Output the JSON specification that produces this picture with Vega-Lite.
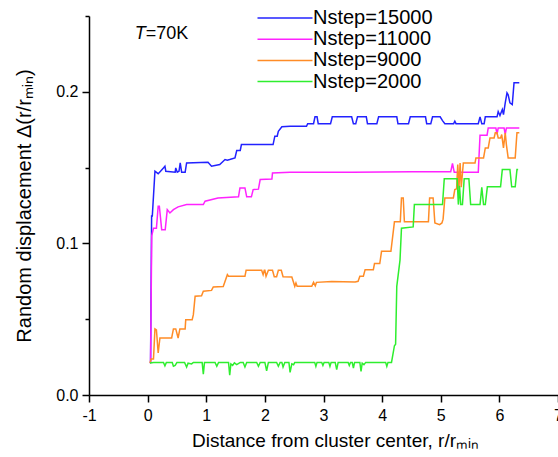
{
"$schema": "https://vega.github.io/schema/vega-lite/v6.json",
"width": 469, "height": 379,
"autosize": "none",
"padding": {"left": 89, "top": 16, "right": 0, "bottom": 62},
"background": "white",
"config": {"view": {"stroke": null}, "font": "Liberation Sans"},
"datasets": {
"curves": [
{"s":"Nstep=15000","r":0.05,"d":0.021},{"s":"Nstep=15000","r":0.068,"d":0.118},{"s":"Nstep=15000","r":0.08,"d":0.118},{"s":"Nstep=15000","r":0.125,"d":0.1476},{"s":"Nstep=15000","r":0.18,"d":0.146},{"s":"Nstep=15000","r":0.22,"d":0.1476},{"s":"Nstep=15000","r":0.27,"d":0.1498},{"s":"Nstep=15000","r":0.295,"d":0.1509},{"s":"Nstep=15000","r":0.31,"d":0.1476},{"s":"Nstep=15000","r":0.47,"d":0.147},{"s":"Nstep=15000","r":0.48,"d":0.1498},{"s":"Nstep=15000","r":0.505,"d":0.147},{"s":"Nstep=15000","r":0.535,"d":0.1476},{"s":"Nstep=15000","r":0.556,"d":0.1531},{"s":"Nstep=15000","r":0.58,"d":0.147},{"s":"Nstep=15000","r":0.64,"d":0.147},{"s":"Nstep=15000","r":0.665,"d":0.1531},{"s":"Nstep=15000","r":1.03,"d":0.1535},{"s":"Nstep=15000","r":1.09,"d":0.1509},{"s":"Nstep=15000","r":1.23,"d":0.152},{"s":"Nstep=15000","r":1.29,"d":0.1542},{"s":"Nstep=15000","r":1.32,"d":0.1553},{"s":"Nstep=15000","r":1.36,"d":0.1549},{"s":"Nstep=15000","r":1.40,"d":0.1553},{"s":"Nstep=15000","r":1.49,"d":0.1564},{"s":"Nstep=15000","r":1.52,"d":0.1613},{"s":"Nstep=15000","r":1.58,"d":0.1613},{"s":"Nstep=15000","r":1.60,"d":0.1652},{"s":"Nstep=15000","r":2.14,"d":0.1652},{"s":"Nstep=15000","r":2.17,"d":0.1707},{"s":"Nstep=15000","r":2.21,"d":0.1707},{"s":"Nstep=15000","r":2.23,"d":0.174},{"s":"Nstep=15000","r":2.29,"d":0.1769},{"s":"Nstep=15000","r":2.43,"d":0.1773},{"s":"Nstep=15000","r":2.71,"d":0.1773},{"s":"Nstep=15000","r":2.73,"d":0.179},{"s":"Nstep=15000","r":2.83,"d":0.179},{"s":"Nstep=15000","r":2.855,"d":0.1835},{"s":"Nstep=15000","r":2.89,"d":0.1835},{"s":"Nstep=15000","r":2.91,"d":0.179},{"s":"Nstep=15000","r":3.12,"d":0.179},{"s":"Nstep=15000","r":3.15,"d":0.1835},{"s":"Nstep=15000","r":3.48,"d":0.1835},{"s":"Nstep=15000","r":3.51,"d":0.179},{"s":"Nstep=15000","r":3.55,"d":0.179},{"s":"Nstep=15000","r":3.58,"d":0.1835},{"s":"Nstep=15000","r":3.73,"d":0.1835},{"s":"Nstep=15000","r":3.75,"d":0.179},{"s":"Nstep=15000","r":3.91,"d":0.179},{"s":"Nstep=15000","r":3.94,"d":0.1835},{"s":"Nstep=15000","r":4.25,"d":0.1835},{"s":"Nstep=15000","r":4.27,"d":0.179},{"s":"Nstep=15000","r":4.45,"d":0.179},{"s":"Nstep=15000","r":4.48,"d":0.1835},{"s":"Nstep=15000","r":4.74,"d":0.1835},{"s":"Nstep=15000","r":4.76,"d":0.179},{"s":"Nstep=15000","r":4.83,"d":0.179},{"s":"Nstep=15000","r":4.86,"d":0.1835},{"s":"Nstep=15000","r":4.99,"d":0.1835},{"s":"Nstep=15000","r":5.03,"d":0.181},{"s":"Nstep=15000","r":5.07,"d":0.179},{"s":"Nstep=15000","r":5.22,"d":0.179},{"s":"Nstep=15000","r":5.24,"d":0.1806},{"s":"Nstep=15000","r":5.26,"d":0.179},{"s":"Nstep=15000","r":5.64,"d":0.179},{"s":"Nstep=15000","r":5.67,"d":0.1835},{"s":"Nstep=15000","r":5.70,"d":0.179},{"s":"Nstep=15000","r":5.74,"d":0.179},{"s":"Nstep=15000","r":5.76,"d":0.1835},{"s":"Nstep=15000","r":5.96,"d":0.1835},{"s":"Nstep=15000","r":5.98,"d":0.187},{"s":"Nstep=15000","r":6.01,"d":0.1844},{"s":"Nstep=15000","r":6.05,"d":0.1883},{"s":"Nstep=15000","r":6.07,"d":0.185},{"s":"Nstep=15000","r":6.10,"d":0.1927},{"s":"Nstep=15000","r":6.13,"d":0.1993},{"s":"Nstep=15000","r":6.15,"d":0.198},{"s":"Nstep=15000","r":6.18,"d":0.1927},{"s":"Nstep=15000","r":6.22,"d":0.1916},{"s":"Nstep=15000","r":6.25,"d":0.206},{"s":"Nstep=15000","r":6.34,"d":0.206},

{"s":"Nstep=11000","r":0.05,"d":0.021},{"s":"Nstep=11000","r":0.07,"d":0.105},{"s":"Nstep=11000","r":0.10,"d":0.110},{"s":"Nstep=11000","r":0.15,"d":0.110},{"s":"Nstep=11000","r":0.18,"d":0.1245},{"s":"Nstep=11000","r":0.20,"d":0.1245},{"s":"Nstep=11000","r":0.24,"d":0.109},{"s":"Nstep=11000","r":0.30,"d":0.109},{"s":"Nstep=11000","r":0.335,"d":0.1223},{"s":"Nstep=11000","r":0.38,"d":0.1201},{"s":"Nstep=11000","r":0.44,"d":0.1223},{"s":"Nstep=11000","r":0.52,"d":0.1241},{"s":"Nstep=11000","r":0.665,"d":0.1256},{"s":"Nstep=11000","r":0.95,"d":0.1256},{"s":"Nstep=11000","r":0.98,"d":0.1278},{"s":"Nstep=11000","r":1.20,"d":0.130},{"s":"Nstep=11000","r":1.55,"d":0.1307},{"s":"Nstep=11000","r":1.575,"d":0.1366},{"s":"Nstep=11000","r":1.66,"d":0.1366},{"s":"Nstep=11000","r":1.69,"d":0.1307},{"s":"Nstep=11000","r":1.77,"d":0.1307},{"s":"Nstep=11000","r":1.80,"d":0.1355},{"s":"Nstep=11000","r":1.89,"d":0.1358},{"s":"Nstep=11000","r":1.92,"d":0.1421},{"s":"Nstep=11000","r":2.12,"d":0.1425},{"s":"Nstep=11000","r":2.13,"d":0.1465},{"s":"Nstep=11000","r":2.43,"d":0.1469},{"s":"Nstep=11000","r":3.5,"d":0.1469},{"s":"Nstep=11000","r":4.5,"d":0.1472},{"s":"Nstep=11000","r":5.17,"d":0.1472},{"s":"Nstep=11000","r":5.20,"d":0.1527},{"s":"Nstep=11000","r":5.23,"d":0.147},{"s":"Nstep=11000","r":5.64,"d":0.147},{"s":"Nstep=11000","r":5.67,"d":0.1714},{"s":"Nstep=11000","r":5.79,"d":0.1714},{"s":"Nstep=11000","r":5.81,"d":0.1762},{"s":"Nstep=11000","r":5.94,"d":0.1762},{"s":"Nstep=11000","r":5.96,"d":0.172},{"s":"Nstep=11000","r":5.98,"d":0.1762},{"s":"Nstep=11000","r":6.08,"d":0.1762},{"s":"Nstep=11000","r":6.10,"d":0.172},{"s":"Nstep=11000","r":6.12,"d":0.1762},{"s":"Nstep=11000","r":6.34,"d":0.1762},

{"s":"Nstep=9000","r":0.04,"d":0.0211},{"s":"Nstep=9000","r":0.06,"d":0.0238},{"s":"Nstep=9000","r":0.10,"d":0.0238},{"s":"Nstep=9000","r":0.125,"d":0.0436},{"s":"Nstep=9000","r":0.15,"d":0.043},{"s":"Nstep=9000","r":0.18,"d":0.0277},{"s":"Nstep=9000","r":0.21,"d":0.0376},{"s":"Nstep=9000","r":0.41,"d":0.0376},{"s":"Nstep=9000","r":0.44,"d":0.0436},{"s":"Nstep=9000","r":0.48,"d":0.0436},{"s":"Nstep=9000","r":0.52,"d":0.0376},{"s":"Nstep=9000","r":0.55,"d":0.0436},{"s":"Nstep=9000","r":0.64,"d":0.0436},{"s":"Nstep=9000","r":0.65,"d":0.0497},{"s":"Nstep=9000","r":0.76,"d":0.0497},{"s":"Nstep=9000","r":0.78,"d":0.053},{"s":"Nstep=9000","r":0.81,"d":0.0651},{"s":"Nstep=9000","r":0.92,"d":0.0655},{"s":"Nstep=9000","r":0.95,"d":0.0684},{"s":"Nstep=9000","r":1.09,"d":0.069},{"s":"Nstep=9000","r":1.12,"d":0.0713},{"s":"Nstep=9000","r":1.29,"d":0.0716},{"s":"Nstep=9000","r":1.36,"d":0.0794},{"s":"Nstep=9000","r":1.38,"d":0.0783},{"s":"Nstep=9000","r":1.66,"d":0.0783},{"s":"Nstep=9000","r":1.68,"d":0.0823},{"s":"Nstep=9000","r":1.945,"d":0.0823},{"s":"Nstep=9000","r":1.97,"d":0.0794},{"s":"Nstep=9000","r":1.99,"d":0.0823},{"s":"Nstep=9000","r":2.00,"d":0.0823},{"s":"Nstep=9000","r":2.02,"d":0.0783},{"s":"Nstep=9000","r":2.06,"d":0.0823},{"s":"Nstep=9000","r":2.13,"d":0.0823},{"s":"Nstep=9000","r":2.16,"d":0.078},{"s":"Nstep=9000","r":2.20,"d":0.078},{"s":"Nstep=9000","r":2.23,"d":0.0823},{"s":"Nstep=9000","r":2.28,"d":0.0823},{"s":"Nstep=9000","r":2.31,"d":0.078},{"s":"Nstep=9000","r":2.46,"d":0.0779},{"s":"Nstep=9000","r":2.51,"d":0.0717},{"s":"Nstep=9000","r":2.53,"d":0.0739},{"s":"Nstep=9000","r":2.55,"d":0.0717},{"s":"Nstep=9000","r":2.80,"d":0.0717},{"s":"Nstep=9000","r":2.83,"d":0.0743},{"s":"Nstep=9000","r":2.86,"d":0.072},{"s":"Nstep=9000","r":2.88,"d":0.0743},{"s":"Nstep=9000","r":3.14,"d":0.0748},{"s":"Nstep=9000","r":3.54,"d":0.0745},{"s":"Nstep=9000","r":3.59,"d":0.075},{"s":"Nstep=9000","r":3.62,"d":0.0783},{"s":"Nstep=9000","r":3.68,"d":0.0783},{"s":"Nstep=9000","r":3.71,"d":0.0827},{"s":"Nstep=9000","r":3.85,"d":0.0827},{"s":"Nstep=9000","r":3.87,"d":0.0867},{"s":"Nstep=9000","r":3.96,"d":0.0867},{"s":"Nstep=9000","r":3.99,"d":0.0948},{"s":"Nstep=9000","r":4.15,"d":0.0948},{"s":"Nstep=9000","r":4.21,"d":0.1142},{"s":"Nstep=9000","r":4.31,"d":0.1142},{"s":"Nstep=9000","r":4.33,"d":0.130},{"s":"Nstep=9000","r":4.36,"d":0.130},{"s":"Nstep=9000","r":4.38,"d":0.1142},{"s":"Nstep=9000","r":4.79,"d":0.1142},{"s":"Nstep=9000","r":4.81,"d":0.130},{"s":"Nstep=9000","r":4.87,"d":0.130},{"s":"Nstep=9000","r":4.90,"d":0.1135},{"s":"Nstep=9000","r":4.98,"d":0.1124},{"s":"Nstep=9000","r":5.02,"d":0.1135},{"s":"Nstep=9000","r":5.04,"d":0.116},{"s":"Nstep=9000","r":5.07,"d":0.130},{"s":"Nstep=9000","r":5.215,"d":0.130},{"s":"Nstep=9000","r":5.24,"d":0.1355},{"s":"Nstep=9000","r":5.27,"d":0.136},{"s":"Nstep=9000","r":5.29,"d":0.152},{"s":"Nstep=9000","r":5.31,"d":0.136},{"s":"Nstep=9000","r":5.33,"d":0.153},{"s":"Nstep=9000","r":5.35,"d":0.137},{"s":"Nstep=9000","r":5.385,"d":0.1531},{"s":"Nstep=9000","r":5.585,"d":0.1531},{"s":"Nstep=9000","r":5.60,"d":0.1564},{"s":"Nstep=9000","r":5.73,"d":0.1564},{"s":"Nstep=9000","r":5.76,"d":0.163},{"s":"Nstep=9000","r":5.81,"d":0.163},{"s":"Nstep=9000","r":5.84,"d":0.1696},{"s":"Nstep=9000","r":5.91,"d":0.1696},{"s":"Nstep=9000","r":5.93,"d":0.173},{"s":"Nstep=9000","r":5.96,"d":0.173},{"s":"Nstep=9000","r":5.98,"d":0.1696},{"s":"Nstep=9000","r":6.02,"d":0.1696},{"s":"Nstep=9000","r":6.04,"d":0.1718},{"s":"Nstep=9000","r":6.07,"d":0.163},{"s":"Nstep=9000","r":6.10,"d":0.173},{"s":"Nstep=9000","r":6.12,"d":0.165},{"s":"Nstep=9000","r":6.15,"d":0.1564},{"s":"Nstep=9000","r":6.27,"d":0.1564},{"s":"Nstep=9000","r":6.30,"d":0.173},{"s":"Nstep=9000","r":6.34,"d":0.173},

{"s":"Nstep=2000","r":0.04,"d":0.0211},{"s":"Nstep=2000","r":0.10,"d":0.0215},{"s":"Nstep=2000","r":0.27,"d":0.0215},{"s":"Nstep=2000","r":0.295,"d":0.0192},{"s":"Nstep=2000","r":0.32,"d":0.0215},{"s":"Nstep=2000","r":0.42,"d":0.0215},{"s":"Nstep=2000","r":0.44,"d":0.019},{"s":"Nstep=2000","r":0.47,"d":0.0195},{"s":"Nstep=2000","r":0.50,"d":0.0215},{"s":"Nstep=2000","r":0.63,"d":0.0215},{"s":"Nstep=2000","r":0.665,"d":0.0185},{"s":"Nstep=2000","r":0.69,"d":0.021},{"s":"Nstep=2000","r":0.75,"d":0.0205},{"s":"Nstep=2000","r":0.78,"d":0.0215},{"s":"Nstep=2000","r":0.93,"d":0.0215},{"s":"Nstep=2000","r":0.95,"d":0.0138},{"s":"Nstep=2000","r":0.97,"d":0.0215},{"s":"Nstep=2000","r":1.15,"d":0.0215},{"s":"Nstep=2000","r":1.18,"d":0.019},{"s":"Nstep=2000","r":1.21,"d":0.0215},{"s":"Nstep=2000","r":1.38,"d":0.0215},{"s":"Nstep=2000","r":1.40,"d":0.013},{"s":"Nstep=2000","r":1.42,"d":0.0205},{"s":"Nstep=2000","r":1.45,"d":0.0195},{"s":"Nstep=2000","r":1.48,"d":0.0212},{"s":"Nstep=2000","r":1.52,"d":0.02},{"s":"Nstep=2000","r":1.58,"d":0.0215},{"s":"Nstep=2000","r":1.63,"d":0.0215},{"s":"Nstep=2000","r":1.66,"d":0.0185},{"s":"Nstep=2000","r":1.69,"d":0.0215},{"s":"Nstep=2000","r":1.86,"d":0.0215},{"s":"Nstep=2000","r":1.89,"d":0.019},{"s":"Nstep=2000","r":1.92,"d":0.0215},{"s":"Nstep=2000","r":2.00,"d":0.0215},{"s":"Nstep=2000","r":2.03,"d":0.016},{"s":"Nstep=2000","r":2.06,"d":0.0215},{"s":"Nstep=2000","r":2.20,"d":0.0215},{"s":"Nstep=2000","r":2.23,"d":0.019},{"s":"Nstep=2000","r":2.26,"d":0.0215},{"s":"Nstep=2000","r":2.29,"d":0.0215},{"s":"Nstep=2000","r":2.31,"d":0.0185},{"s":"Nstep=2000","r":2.34,"d":0.0215},{"s":"Nstep=2000","r":2.41,"d":0.0215},{"s":"Nstep=2000","r":2.43,"d":0.0149},{"s":"Nstep=2000","r":2.46,"d":0.0205},{"s":"Nstep=2000","r":2.49,"d":0.02},{"s":"Nstep=2000","r":2.51,"d":0.0215},{"s":"Nstep=2000","r":2.85,"d":0.0215},{"s":"Nstep=2000","r":2.87,"d":0.0189},{"s":"Nstep=2000","r":2.89,"d":0.0215},{"s":"Nstep=2000","r":2.97,"d":0.0215},{"s":"Nstep=2000","r":2.99,"d":0.0195},{"s":"Nstep=2000","r":3.01,"d":0.0215},{"s":"Nstep=2000","r":3.09,"d":0.0215},{"s":"Nstep=2000","r":3.11,"d":0.0189},{"s":"Nstep=2000","r":3.13,"d":0.0215},{"s":"Nstep=2000","r":3.20,"d":0.0215},{"s":"Nstep=2000","r":3.225,"d":0.0167},{"s":"Nstep=2000","r":3.25,"d":0.0215},{"s":"Nstep=2000","r":3.42,"d":0.0215},{"s":"Nstep=2000","r":3.44,"d":0.0195},{"s":"Nstep=2000","r":3.46,"d":0.0215},{"s":"Nstep=2000","r":3.49,"d":0.0215},{"s":"Nstep=2000","r":3.51,"d":0.0178},{"s":"Nstep=2000","r":3.53,"d":0.0215},{"s":"Nstep=2000","r":3.62,"d":0.0215},{"s":"Nstep=2000","r":3.64,"d":0.0156},{"s":"Nstep=2000","r":3.66,"d":0.021},{"s":"Nstep=2000","r":3.69,"d":0.02},{"s":"Nstep=2000","r":3.72,"d":0.0215},{"s":"Nstep=2000","r":4.06,"d":0.0215},{"s":"Nstep=2000","r":4.08,"d":0.0189},{"s":"Nstep=2000","r":4.10,"d":0.0215},{"s":"Nstep=2000","r":4.16,"d":0.0215},{"s":"Nstep=2000","r":4.21,"d":0.0325},{"s":"Nstep=2000","r":4.23,"d":0.0335},{"s":"Nstep=2000","r":4.25,"d":0.0717},{"s":"Nstep=2000","r":4.305,"d":0.089},{"s":"Nstep=2000","r":4.33,"d":0.110},{"s":"Nstep=2000","r":4.53,"d":0.1109},{"s":"Nstep=2000","r":4.55,"d":0.1256},{"s":"Nstep=2000","r":5.03,"d":0.1256},{"s":"Nstep=2000","r":5.06,"d":0.1426},{"s":"Nstep=2000","r":5.28,"d":0.1426},{"s":"Nstep=2000","r":5.30,"d":0.1256},{"s":"Nstep=2000","r":5.32,"d":0.138},{"s":"Nstep=2000","r":5.34,"d":0.1256},{"s":"Nstep=2000","r":5.37,"d":0.1256},{"s":"Nstep=2000","r":5.40,"d":0.1426},{"s":"Nstep=2000","r":5.48,"d":0.1426},{"s":"Nstep=2000","r":5.51,"d":0.1256},{"s":"Nstep=2000","r":5.67,"d":0.1256},{"s":"Nstep=2000","r":5.70,"d":0.137},{"s":"Nstep=2000","r":5.73,"d":0.1256},{"s":"Nstep=2000","r":5.76,"d":0.1256},{"s":"Nstep=2000","r":5.795,"d":0.1373},{"s":"Nstep=2000","r":6.02,"d":0.1373},{"s":"Nstep=2000","r":6.05,"d":0.1487},{"s":"Nstep=2000","r":6.18,"d":0.1487},{"s":"Nstep=2000","r":6.21,"d":0.1373},{"s":"Nstep=2000","r":6.27,"d":0.1373},{"s":"Nstep=2000","r":6.30,"d":0.1487},{"s":"Nstep=2000","r":6.32,"d":0.1487}
]
},
"layer": [
{
"data": {"name": "curves"},
"mark": {"type": "line", "strokeWidth": 1.5},
"encoding": {
"x": {"field": "r", "type": "quantitative",
"scale": {"domain": [-1, 7], "nice": false, "zero": false},
"axis": {"values": [-1,-0.5,0,0.5,1,1.5,2,2.5,3,3.5,4,4.5,5,5.5,6,6.5,7],
"labelExpr": "datum.value % 1 === 0 ? '' + datum.value : ''",
"tickSize": {"condition": {"test": "datum.value % 1 !== 0", "value": 4}, "value": 7},
"grid": false, "domainColor": "black", "domainWidth": 1.5, "tickColor": "black", "tickWidth": 1.5,
"labelFont": "Liberation Sans", "labelFontSize": 16, "labelColor": "black", "labelPadding": 5, "labelFlush": false, "labelOverlap": false,
"title": "Distance from cluster center, r/rₘᵢₙ", "titleFont": "Liberation Sans", "titleFontSize": 19, "titleFontWeight": "normal", "titleColor": "black", "titlePadding": 8, "titleX": 246, "titleAlign": "center"}},
"y": {"field": "d", "type": "quantitative",
"scale": {"domain": [0, 0.25], "nice": false},
"axis": {"values": [0,0.05,0.1,0.15,0.2,0.25],
"labelExpr": "round(datum.value*100) % 10 === 0 ? format(datum.value, '.1f') : ''",
"tickSize": {"condition": {"test": "round(datum.value*100) % 10 !== 0", "value": 4}, "value": 7},
"grid": false, "domainColor": "black", "domainWidth": 1.5, "tickColor": "black", "tickWidth": 1.5,
"labelFont": "Liberation Sans", "labelFontSize": 16, "labelColor": "black", "labelPadding": 4, "labelFlush": false, "labelOverlap": false,
"title": "Random displacement Δ(r/rₘᵢₙ)", "titleFont": "Liberation Sans", "titleFontSize": 20, "titleFontWeight": "normal", "titleColor": "black", "titlePadding": 21}},
"color": {"field": "s", "type": "nominal",
"scale": {"domain": ["Nstep=15000","Nstep=11000","Nstep=9000","Nstep=2000"], "range": ["#2222FF","#FF22FF","#FF8C26","#2EEE2E"]},
"legend": {"orient": "none", "legendX": 186, "legendY": -8, "title": null, "padding": 0,
"symbolType": "M-5,0H5", "symbolSize": 121, "symbolStrokeWidth": 1.5,
"labelFont": "Liberation Sans", "labelFontSize": 20, "labelColor": "black", "labelOffset": 18, "rowPadding": 1.2}}
}
},
{
"data": {"values": [{}]},
"mark": {"type": "text", "text": "T", "fontStyle": "italic", "font": "Liberation Sans", "fontSize": 18, "align": "left", "baseline": "middle", "color": "black"},
"encoding": {"x": {"datum": -0.22}, "y": {"datum": 0.2378}}
},
{
"data": {"values": [{}]},
"mark": {"type": "text", "text": "=70K", "font": "Liberation Sans", "fontSize": 18, "align": "left", "baseline": "middle", "color": "black", "dx": 11},
"encoding": {"x": {"datum": -0.22}, "y": {"datum": 0.2378}}
}
]
}
